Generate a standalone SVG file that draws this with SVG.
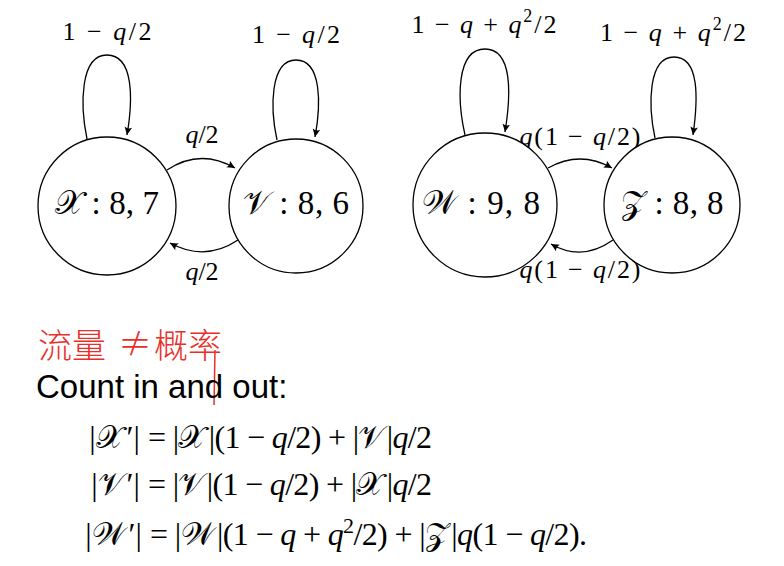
<svg xmlns="http://www.w3.org/2000/svg" width="784" height="566" viewBox="0 0 784 566">
<style>
.node{fill:#fff;stroke:#000;stroke-width:1.3}
.edge{fill:none;stroke:#000;stroke-width:1.3}
.mt{font-family:"Liberation Serif","DejaVu Serif",serif;fill:#000}
.cal{font-family:"DejaVu Serif","Noto Sans",serif;font-style:normal}
.i{font-style:italic}
.hand{font-family:"Noto Sans CJK SC","Noto Sans CJK JP",sans-serif;font-weight:300;fill:#e8302a;font-size:34px}
.sans{font-family:"Liberation Sans",Arial,sans-serif;fill:#000}
</style>
<defs>
<marker id="arr" viewBox="-9 -5 10 10" refX="0" refY="0" markerWidth="10" markerHeight="10" markerUnits="userSpaceOnUse" orient="auto">
<path d="M0,0 L-8,-3.8 Q-5.5,0 -8,3.8 Z" fill="#000"/>
</marker>
</defs>
<rect width="784" height="566" fill="#fff"/>

<g id="connectors">
<path class="edge" d="M87,139 C80,105 80,55 107,55 C134,55 133,100 127,135" marker-end="url(#arr)"/>
<path class="edge" d="M277,140 C270,108 270,60 296,60 C322,60 321,105 315,137" marker-end="url(#arr)"/>
<path class="edge" d="M167,170 Q200,148 235,168" marker-end="url(#arr)"/>
<path class="edge" d="M238,240 Q205,262 170,243" marker-end="url(#arr)"/>
<path class="edge" d="M465,135 C457,100 456,49 485,49 C513,49 511,95 505,132" marker-end="url(#arr)"/>
<path class="edge" d="M655,138 C648,105 648,57 674,57 C700,57 698,100 693,135" marker-end="url(#arr)"/>
<path class="edge" d="M548,168 Q580,150 612,168" marker-end="url(#arr)"/>
<path class="edge" d="M613,240 Q582,262 551,244" marker-end="url(#arr)"/>
</g>

<g id="edge-labels" class="mt" font-size="26" text-anchor="middle">
<text x="107" y="40" textLength="89" lengthAdjust="spacing">1 − <tspan class="i">q</tspan>/2</text>
<text x="296" y="43" textLength="88" lengthAdjust="spacing">1 − <tspan class="i">q</tspan>/2</text>
<text x="202" y="143"><tspan class="i">q</tspan>/2</text>
<text x="202" y="280"><tspan class="i">q</tspan>/2</text>
<text x="484" y="33" textLength="145" lengthAdjust="spacing">1 − <tspan class="i">q</tspan> + <tspan class="i">q</tspan><tspan dy="-11" font-size="18">2</tspan><tspan dy="11">/2</tspan></text>
<text x="673" y="41" textLength="146" lengthAdjust="spacing">1 − <tspan class="i">q</tspan> + <tspan class="i">q</tspan><tspan dy="-11" font-size="18">2</tspan><tspan dy="11">/2</tspan></text>
<text x="580" y="145" textLength="121" lengthAdjust="spacing"><tspan class="i">q</tspan>(1 − <tspan class="i">q</tspan>/2)</text>
<text x="580" y="278" textLength="121" lengthAdjust="spacing"><tspan class="i">q</tspan>(1 − <tspan class="i">q</tspan>/2)</text>
</g>

<g id="node-X">
<circle class="node" cx="107" cy="206" r="69"/>
<text class="mt" x="107" y="214" font-size="33" text-anchor="middle" textLength="104" lengthAdjust="spacing"><tspan class="cal">𝒳</tspan> : 8, 7</text>
</g>
<g id="node-V">
<circle class="node" cx="296" cy="206" r="67"/>
<text class="mt" x="296" y="214" font-size="33" text-anchor="middle" textLength="106" lengthAdjust="spacing"><tspan class="cal">𝒱</tspan> : 8, 6</text>
</g>
<g id="node-W">
<circle class="node" cx="485" cy="205" r="72"/>
<text class="mt" x="481" y="214" font-size="33" text-anchor="middle" textLength="118" lengthAdjust="spacing"><tspan class="cal">𝒲</tspan> : 9, 8</text>
</g>
<g id="node-Z">
<circle class="node" cx="672" cy="205" r="68"/>
<text class="mt" x="672" y="214" font-size="33" text-anchor="middle" textLength="103" lengthAdjust="spacing"><tspan class="cal">𝒵</tspan> : 8, 8</text>
</g>

<g id="annotation">
<text class="hand" x="38" y="358">流量</text>
<text class="hand" x="118" y="356" font-size="26">≠</text>
<text class="hand" x="154" y="358">概率</text>
<path d="M215,350 L214,405" stroke="#e8302a" stroke-width="1.5" fill="none"/>
</g>

<text class="sans" x="36" y="398" font-size="33">Count in and out:</text>

<g id="equations" class="mt" font-size="32">
<text x="140" y="448" text-anchor="end">|<tspan class="cal">𝒳</tspan><tspan dx="3">′|</tspan></text>
<text x="148" y="448" textLength="284" lengthAdjust="spacing">= |<tspan class="cal">𝒳</tspan><tspan dx="3">|(1 − </tspan><tspan class="i">q</tspan>/2) + |<tspan class="cal">𝒱</tspan><tspan dx="2">|</tspan><tspan class="i">q</tspan>/2</text>
<text x="140" y="495" text-anchor="end">|<tspan class="cal">𝒱</tspan><tspan dx="2">′|</tspan></text>
<text x="148" y="495" textLength="284" lengthAdjust="spacing">= |<tspan class="cal">𝒱</tspan><tspan dx="2">|(1 − </tspan><tspan class="i">q</tspan>/2) + |<tspan class="cal">𝒳</tspan><tspan dx="3">|</tspan><tspan class="i">q</tspan>/2</text>
<text x="142" y="545" text-anchor="end">|<tspan class="cal">𝒲</tspan><tspan dx="3">′|</tspan></text>
<text x="150" y="545" textLength="437" lengthAdjust="spacing">= |<tspan class="cal">𝒲</tspan><tspan dx="3">|(1 − </tspan><tspan class="i">q</tspan> + <tspan class="i">q</tspan><tspan dy="-12" font-size="22">2</tspan><tspan dy="12">/2) + |</tspan><tspan class="cal">𝒵</tspan><tspan dx="3">|</tspan><tspan class="i">q</tspan>(1 − <tspan class="i">q</tspan>/2).</text>
</g>
</svg>
